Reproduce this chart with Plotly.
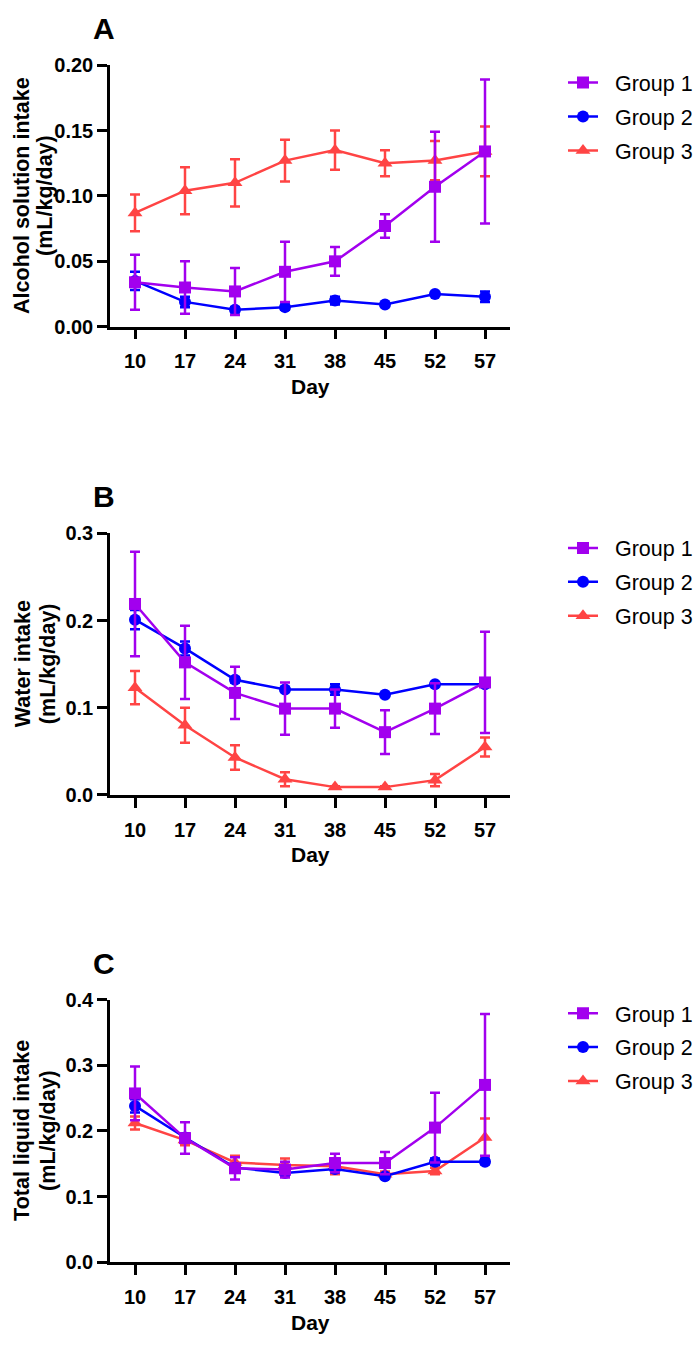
import plotly.graph_objects as go

W, H = 698, 1345

days = ["10", "17", "24", "31", "38", "45", "52", "57"]
groups = ["Group 1", "Group 2", "Group 3"]

# Panel A: alcohol solution intake
a_g1 = [0.034, 0.030, 0.027, 0.042, 0.050, 0.077, 0.107, 0.134]
a_g1_err = [0.021, 0.020, 0.018, 0.023, 0.011, 0.009, 0.042, 0.055]
a_g2 = [0.035, 0.019, 0.013, 0.015, 0.020, 0.017, 0.025, 0.023]
a_g2_err = [0.007, 0.004, 0.002, 0.002, 0.003, 0.001, 0.001, 0.004]
a_g3 = [0.087, 0.104, 0.110, 0.127, 0.135, 0.125, 0.127, 0.134]
a_g3_err = [0.014, 0.018, 0.018, 0.016, 0.015, 0.010, 0.015, 0.019]

# Panel B: water intake
b_g1 = [0.219, 0.152, 0.117, 0.099, 0.099, 0.072, 0.099, 0.129]
b_g1_err = [0.060, 0.042, 0.030, 0.030, 0.022, 0.025, 0.029, 0.058]
b_g2 = [0.201, 0.168, 0.132, 0.121, 0.121, 0.115, 0.127, 0.127]
b_g2_err = [0.011, 0.008, 0.003, 0.002, 0.006, 0.002, 0.002, 0.003]
b_g3 = [0.123, 0.080, 0.043, 0.018, 0.009, 0.009, 0.017, 0.055]
b_g3_err = [0.019, 0.020, 0.014, 0.008, 0.001, 0.001, 0.007, 0.011]

# Panel C: total liquid intake
c_g1 = [0.257, 0.189, 0.143, 0.141, 0.151, 0.151, 0.205, 0.270]
c_g1_err = [0.041, 0.024, 0.017, 0.012, 0.014, 0.017, 0.053, 0.108]
c_g2 = [0.238, 0.190, 0.144, 0.136, 0.142, 0.131, 0.153, 0.153]
c_g2_err = [0.010, 0.006, 0.005, 0.005, 0.005, 0.003, 0.005, 0.004]
c_g3 = [0.212, 0.186, 0.152, 0.148, 0.146, 0.134, 0.139, 0.190]
c_g3_err = [0.010, 0.008, 0.010, 0.010, 0.012, 0.004, 0.005, 0.029]

colors = ["#A200EE", "#0000FF", "#FF4444"]
symbols = ["square", "circle", "triangle-up"]

panels = [
    dict(letter="A", title=["Alcohol solution intake", "(mL/kg/day)"],
         series=[(a_g1, a_g1_err), (a_g2, a_g2_err), (a_g3, a_g3_err)],
         yrange=[0, 0.2], dtick=0.05, fmt=".2f",
         top=55, bottom=321, legend_y=76, tx=[22, 45]),
    dict(letter="B", title=["Water intake", "(mL/kg/day)"],
         series=[(b_g1, b_g1_err), (b_g2, b_g2_err), (b_g3, b_g3_err)],
         yrange=[0, 0.3], dtick=0.1, fmt=".1f",
         top=531, bottom=797, legend_y=549, tx=[23, 48]),
    dict(letter="C", title=["Total liquid intake", "(mL/kg/day)"],
         series=[(c_g1, c_g1_err), (c_g2, c_g2_err), (c_g3, c_g3_err)],
         yrange=[0, 0.4], dtick=0.1, fmt=".1f",
         top=1005, bottom=1272, legend_y=1022, tx=[22, 48]),
]

FONT = "Arial, Liberation Sans, sans-serif"
x0_px, x1_px = 110, 510
NB = "\u00a0\u00a0"

fig = go.Figure()
layout = dict(
    width=W, height=H, margin=dict(l=0, r=0, t=0, b=0),
    plot_bgcolor="white", paper_bgcolor="white",
    font=dict(family=FONT, color="black"),
    annotations=[],
)


def px_y(p):
    return 1 - p / H


def px_x(p):
    return p / W


for i, p in enumerate(panels):
    n = "" if i == 0 else str(i + 1)
    xa, ya = "x" + n, "y" + n
    leg = "legend" + n
    # draw Group 3, Group 2, then Group 1 on top
    for g in [2, 1, 0]:
        vals, errs = p["series"][g]
        fig.add_trace(go.Scatter(
            x=days, y=vals, xaxis=xa, yaxis=ya,
            name=NB + groups[g], legend=leg, legendrank=g + 1,
            legendgroup="g%d_%d" % (i, g),
            mode="lines+markers",
            line=dict(color=colors[g], width=2.5),
            marker=dict(symbol=symbols[g], size=12 if g != 2 else 13, color=colors[g]),
            error_y=dict(type="data", array=errs, visible=True,
                         color=colors[g], thickness=2.5, width=5),
            cliponaxis=False,
        ))
    ydom = [px_y(p["bottom"]), px_y(p["top"])]
    tickfont = dict(family=FONT, size=20, color="black", weight="bold")
    layout["xaxis" + n] = dict(
        domain=[px_x(x0_px), px_x(x1_px)], anchor=ya,
        type="category", range=[-0.5, 7.5],
        showline=True, linecolor="black", linewidth=2.5,
        ticks="outside", ticklen=10, tickwidth=2.5, tickcolor="black",
        tickfont=tickfont, ticklabelstandoff=5,
        showgrid=False, zeroline=False,
    )
    layout["yaxis" + n] = dict(
        domain=ydom, anchor=xa,
        range=p["yrange"], dtick=p["dtick"], tick0=0, tickformat=p["fmt"],
        showline=True, linecolor="black", linewidth=2.5,
        ticks="outside", ticklen=10, tickwidth=2.5, tickcolor="black",
        tickfont=tickfont,
        showgrid=False, zeroline=False,
    )
    layout[leg] = dict(
        x=px_x(563), y=px_y(p["legend_y"] - 24), xanchor="left", yanchor="top",
        font=dict(family=FONT, size=21.5, color="black"),
        bgcolor="rgba(0,0,0,0)", traceorder="grouped", tracegroupgap=3,
    )
    # panel letter
    layout["annotations"].append(dict(
        text="<b>" + p["letter"] + "</b>", x=px_x(103.5), y=px_y(p["top"] - 37),
        xref="paper", yref="paper", xanchor="center", yanchor="middle",
        showarrow=False, font=dict(family=FONT, size=30, color="black"),
    ))
    # x-axis title
    layout["annotations"].append(dict(
        text="<b>Day</b>", x=px_x((x0_px + x1_px) / 2), y=px_y(p["bottom"] + 61),
        xref="paper", yref="paper", xanchor="center", yanchor="middle",
        showarrow=False, font=dict(family=FONT, size=21, color="black"),
    ))
    # y-axis title (two lines)
    ymid = (p["top"] + p["bottom"]) / 2
    for line, xc in zip(p["title"], p["tx"]):
        layout["annotations"].append(dict(
            text="<b>" + line + "</b>", x=px_x(xc), y=px_y(ymid),
            xref="paper", yref="paper", xanchor="center", yanchor="middle",
            textangle=-90, showarrow=False,
            font=dict(family=FONT, size=21.5, color="black"),
        ))

fig.update_layout(**layout)
fig.write_html("out.html")
